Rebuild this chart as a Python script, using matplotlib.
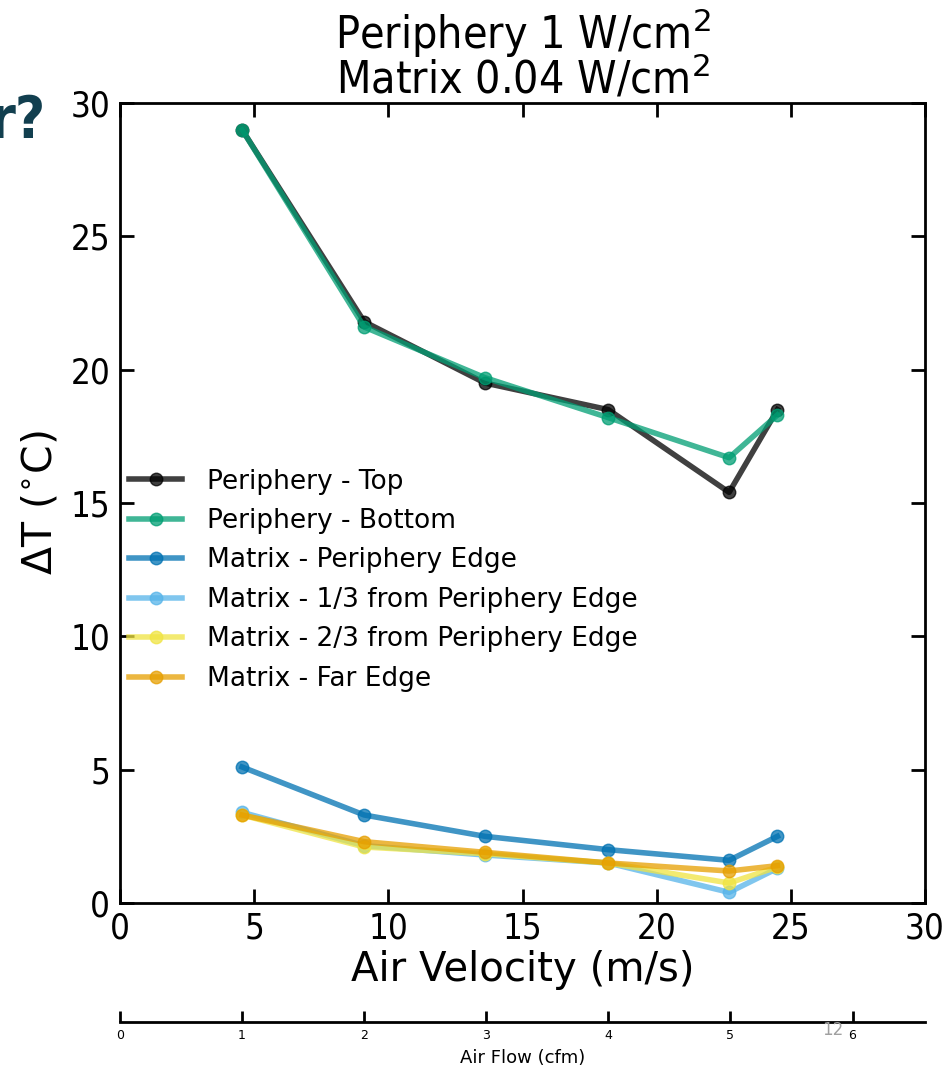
import matplotlib
matplotlib.use("Agg")
import matplotlib.pyplot as plt
import numpy as np

# Data
velocity = [4.55, 9.1, 13.6, 18.2, 22.7, 24.5]
periphery_top = [29.0, 21.8, 19.5, 18.5, 15.4, 18.5]
periphery_bottom = [29.0, 21.6, 19.7, 18.2, 16.7, 18.3]
matrix_edge = [5.1, 3.3, 2.5, 2.0, 1.6, 2.5]
matrix_third = [3.4, 2.15, 1.8, 1.5, 0.4, 1.3]
matrix_two_third = [3.3, 2.1, 1.85, 1.5, 0.75, 1.35]
matrix_far = [3.3, 2.3, 1.9, 1.5, 1.2, 1.4]
series_labels = ["Periphery - Top", "Periphery - Bottom", "Matrix - Periphery Edge",
                 "Matrix - 1/3 from Periphery Edge", "Matrix - 2/3 from Periphery Edge",
                 "Matrix - Far Edge"]
series_colors = ["#000000", "#009E73", "#0072B2", "#56B4E9", "#F0E442", "#E69F00"]
axis_ticks = [0, 5, 10, 15, 20, 25, 30]
cfm_ticks = [0, 1, 2, 3, 4, 5, 6]
ms_per_cfm = 4.55

fig = plt.figure(figsize=(9.49, 10.67), dpi=100)
ax = fig.add_axes([120/949, 1 - 903/1067, (925-120)/949, (903-103)/1067])

all_series = [periphery_top, periphery_bottom, matrix_edge, matrix_third, matrix_two_third, matrix_far]
for vals, lab, col in zip(all_series, series_labels, series_colors):
    ax.plot(velocity, vals, '-o', color=col, alpha=0.75, lw=4, ms=9, label=lab)

ax.set_xlim(0, 30)
ax.set_ylim(0, 30)
ax.set_xticks(axis_ticks)
ax.set_yticks(axis_ticks)
ax.tick_params(direction='in', top=True, right=True, length=10, width=2, labelsize=25)
ax.tick_params(axis='x', pad=6)
ax.tick_params(axis='y', pad=7)
for lbl in ax.get_xticklabels() + ax.get_yticklabels():
    lbl.set_fontstretch('condensed')
for s in ax.spines.values():
    s.set_linewidth(2)
ax.set_xlabel("Air Velocity (m/s)", fontsize=29, labelpad=3)
ax.set_ylabel("ΔT ($^{\\circ}$C)", fontsize=29.5, labelpad=7)
ax.set_title("Periphery 1 W/cm$^2$\nMatrix 0.04 W/cm$^2$", fontsize=32, pad=7,
             fontstretch='condensed', linespacing=0.86)

leg = ax.legend(loc='center left', bbox_to_anchor=(-0.018, 0.4035), frameon=False,
                fontsize=19, handlelength=2.0, handletextpad=0.95, labelspacing=0.51)

# secondary cfm axis
ax2 = fig.add_axes([120/949, 1 - 1022/1067, (925-120)/949, 0.001])
ax2.set_xlim(0, 30 / ms_per_cfm)
ax2.set_xticks(cfm_ticks)
ax2.set_yticks([])
for k in ['top', 'left', 'right']:
    ax2.spines[k].set_visible(False)
ax2.spines['bottom'].set_linewidth(2)
ax2.patch.set_visible(False)
ax2.tick_params(axis='x', direction='in', length=8, width=2, labelsize=9, pad=5)
ax2.set_xlabel("Air Flow (cfm)", fontsize=13, labelpad=5)

# slide artifacts
fig.text(46/949, 1 - 138/1067, "r?", fontsize=42, fontweight='bold', fontstretch='condensed',
         color='#123f4f', va='baseline', ha='right')
fig.text(833/949, 1 - 1030/1067, "12", fontsize=12, color='#a0a0a0', va='center', ha='center')

fig.savefig("out.png", dpi=100)
